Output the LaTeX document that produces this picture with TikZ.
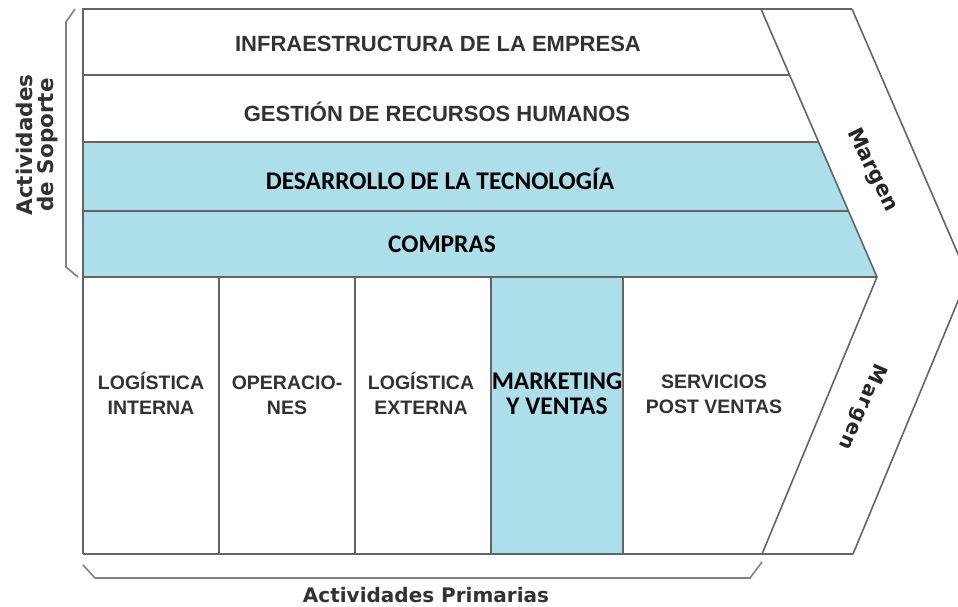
\documentclass[tikz,border=0pt]{standalone}
\usepackage{fontspec}
\newfontfamily\arialfont{Liberation Sans}
\newfontfamily\calfont{Carlito}
\newfontfamily\dvfont{DejaVu Sans}
\newfontfamily\dvancho{DejaVu Sans}[LetterSpace=6]
\usetikzlibrary{positioning}
\definecolor{celeste}{RGB}{172,223,234}
\definecolor{tinta}{RGB}{50,50,50}
\definecolor{borde}{RGB}{100,100,100}
\tikzset{
  fila/.style={font=\arialfont\bfseries\fontsize{22}{24}\selectfont, text=tinta},
  filaazul/.style={font=\calfont\bfseries\fontsize{25.4}{27}\selectfont, text=black},
  prim/.style={font=\arialfont\bfseries\fontsize{19.5}{25}\selectfont, text=tinta, align=center},
  primazul/.style={font=\calfont\bfseries\fontsize{25.4}{25}\selectfont, text=black, align=center},
  margen/.style={font=\dvfont\bfseries\fontsize{21}{24}\selectfont, text=black!85},
  titulo/.style={font=\dvfont\bfseries\fontsize{20}{21}\selectfont, text=tinta, align=center},
  linea/.style={draw=borde, line width=2pt},
}

\begin{document}
\begin{tikzpicture}[x=1pt,y=-1pt]
    \useasboundingbox (0,0) rectangle (958,607);
    \clip (0,0) rectangle (958,607);
    % esquinas de la cadena de valor
    \coordinate (ia) at (761,9);
    \coordinate (ib) at (877,277);
    \coordinate (ic) at (762,554);
    \coordinate (oa) at (852,9);
    \coordinate (ob) at (968,277);
    \coordinate (oc) at (853,554);
    %% rellenos
    \fill[celeste] (83,142) -- (819,142) -- (ib) -- (83,277) -- cycle;
    \fill[celeste] (491,277) rectangle (623,554);
    %% lineas
    \draw[linea] (83,554) -- (83,9) -- (oa);
    \draw[linea] (83,75) -- (790,75);
    \draw[linea] (83,142) -- (819,142);
    \draw[linea] (83,211) -- (848,211);
    \draw[linea] (83,277) -- (ib);
    \draw[linea] (83,554) -- (oc);
    \draw[linea, line width=1.6pt] (ia) -- (ib) -- (ic);
    \draw[linea, line width=1.6pt] (oa) -- (ob) -- (oc);
    \foreach \x in {219,355,491,623}
        \draw[linea] (\x,277) -- (\x,554);
    %
    \draw[linea, draw=gray, line width=1.6pt] (75,9) -- (66,22) -- (66,267) -- (78,277);
    \draw[linea, draw=gray, line width=1.6pt] (83,565) -- (95,578) -- (750,578) -- (762,562);
    %% actividades de soporte
    \node[fila] (infra) at (438,44) {INFRAESTRUCTURA DE LA EMPRESA};
    \node[fila] (rrhh) at (437,112) {GESTIÓN DE RECURSOS HUMANOS};
    \node[filaazul] (tecno) at (440,179) {DESARROLLO DE LA TECNOLOGÍA};
    \node[filaazul] (compras) at (442,244) {COMPRAS};
    %% actividades primarias
    \node[prim] (login) at (151,393) {LOGÍSTICA\\INTERNA};
    \node[prim] (opera) at (287,395) {OPERACIO-\\NES};
    \node[prim] (logext) at (421,393) {LOGÍSTICA\\EXTERNA};
    \node[primazul] (mkt) at (557,394) {MARKETING\\Y VENTAS};
    \node[prim] (serv) at (714,394) {SERVICIOS\\POST VENTAS};
    %% margen
    \node[margen, rotate=-64] (marg1) at (872,170) {Margen};
    \node[margen, font=\dvancho\bfseries\fontsize{20}{24}\selectfont, rotate=-113] (marg2) at (862,407) {Margen};
    %% llaves
    \node[titulo, font=\dvfont\bfseries\fontsize{21.5}{21}\selectfont, rotate=90] (soporte) at (37,145) {Actividades\\de Soporte};
    \node[titulo] (primarias) at (426,595) {Actividades Primarias};
\end{tikzpicture}
\end{document}
